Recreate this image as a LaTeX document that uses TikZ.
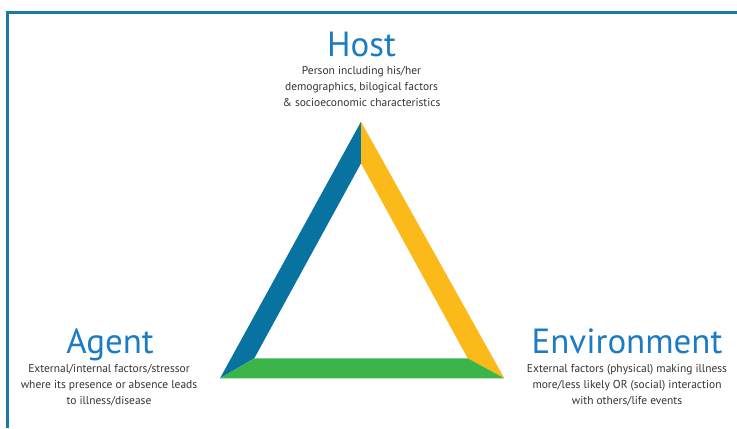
\documentclass[tikz,border=0pt]{standalone}
\usepackage{fontspec}
\setmainfont{PT Sans}
\definecolor{frameblue}{HTML}{1C78A8}
\definecolor{sideblue}{HTML}{0872A1}
\definecolor{sideyellow}{HTML}{FBB91A}
\definecolor{sidegreen}{HTML}{3BB54A}
\definecolor{titleblue}{HTML}{1B7CC4}
\definecolor{bodygray}{HTML}{333333}
\begin{document}
\begin{tikzpicture}[x=0.75pt,y=-0.75pt,
  title/.style={text=titleblue,font=\fontsize{26.2}{28}\selectfont,inner sep=0pt,anchor=base},
  body/.style={text=bodygray,font=\fontsize{8.6}{12}\selectfont,align=center,inner sep=0pt,anchor=north}]
\useasboundingbox (0,0) rectangle (737,428);
% frame along the left and top edges
\draw[frameblue,line width=1.9pt] (7.5,428) -- (7.5,12.5) -- (737,12.5);
% triangle corners (outer and inner)
\coordinate (apex) at (361,121.7);
\coordinate (apexin) at (361,163.3);
\coordinate (bl) at (220,378.3);
\coordinate (blin) at (254.3,358.3);
\coordinate (br) at (504.3,378.3);
\coordinate (brin) at (467.7,358.3);
\fill[sideblue] (apex) -- (apexin) -- (blin) -- (bl) -- cycle;
\fill[sideyellow] (apex) -- (apexin) -- (brin) -- (br) -- cycle;
\fill[sidegreen] (bl) -- (blin) -- (brin) -- (br) -- cycle;
% labels
\node[title] (host) at (361.5,56) {Host};
\node[body] (hostdesc) at (361.5,66.5) {Person including his/her\\demographics, bilogical factors\\\& socioeconomic characteristics};
\node[title] (agent) at (110,353) {Agent};
\node[body] (agentdesc) at (109,364) {External/internal factors/stressor\\where its presence or absence leads\\to illness/disease};
\node[title] (env) at (627,353) {Environment};
\node[body] (envdesc) at (627,364) {External factors (physical) making illness\\more/less likely OR (social) interaction\\with others/life events};
\end{tikzpicture}
\end{document}
